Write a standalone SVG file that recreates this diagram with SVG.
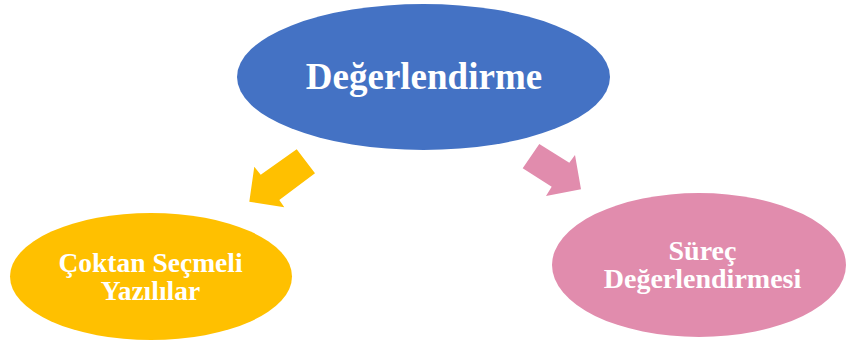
<svg xmlns="http://www.w3.org/2000/svg" width="846" height="347" viewBox="0 0 846 347">
<style>
.lbl{font-family:"Liberation Serif","Times New Roman",serif;font-weight:bold;fill:#ffffff;text-anchor:middle}
</style>
<rect width="846" height="347" fill="#ffffff"/>
<g id="connectors">
<polygon id="arrow-left" fill="#FFC000" points="296.7,149.3 315,173.3 279.3,200 284.3,207.3 249.3,201.7 254.3,166.7 260.7,174.7"/>
<polygon id="arrow-right" fill="#E18CAD" points="539.3,144 569.3,162.7 575,155 581,189.3 546,196 551.7,186.7 522.7,168.3"/>
</g>
<g id="node-degerlendirme">
<ellipse cx="423.5" cy="77" rx="186.5" ry="73" fill="#4472C4"/>
<text class="lbl" x="424" y="89" font-size="37">Değerlendirme</text>
</g>
<g id="node-coktan">
<ellipse cx="151" cy="276.5" rx="141" ry="63.5" fill="#FFC000"/>
<text class="lbl" x="150.5" y="271.7" font-size="27.5">Çoktan Seçmeli</text>
<text class="lbl" x="150.5" y="300" font-size="27.5">Yazılılar</text>
</g>
<g id="node-surec">
<ellipse cx="699" cy="265" rx="147" ry="72" fill="#E18CAD"/>
<text class="lbl" x="702.5" y="260" font-size="28">Süreç</text>
<text class="lbl" x="702.5" y="288.3" font-size="28">Değerlendirmesi</text>
</g>
</svg>
